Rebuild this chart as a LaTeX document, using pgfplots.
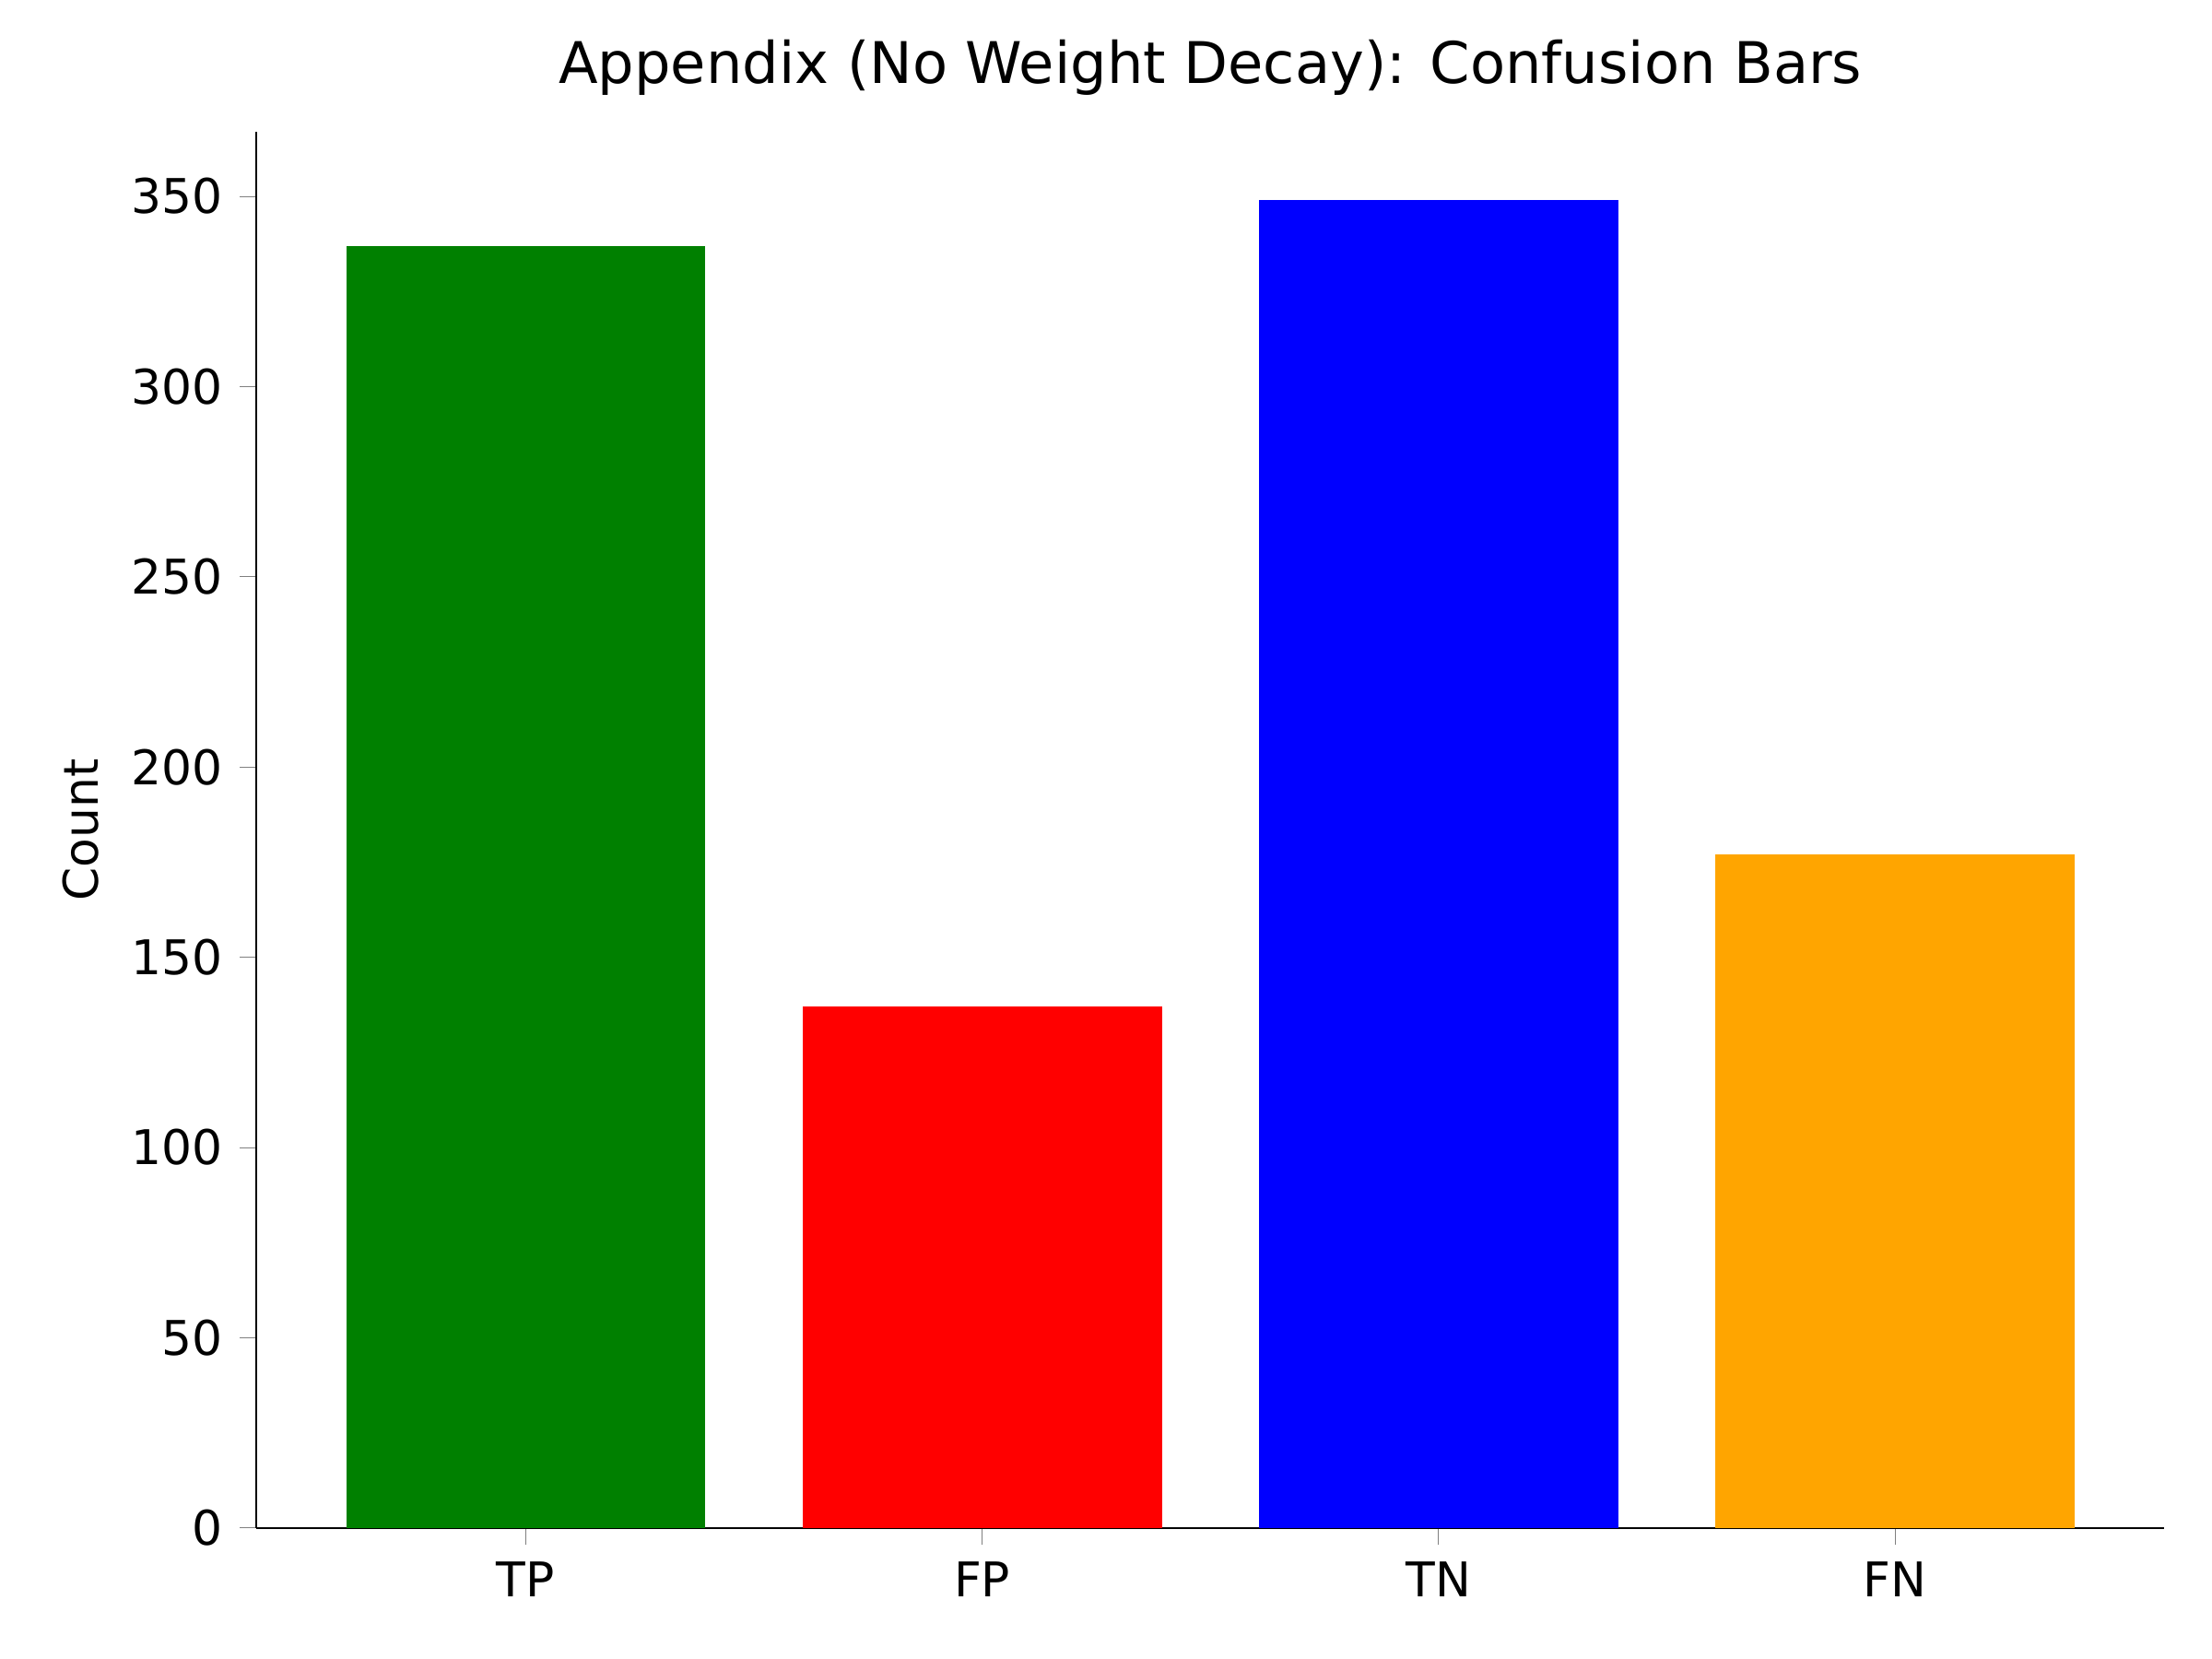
\documentclass[border=0pt]{standalone}
\usepackage{pgfplots}
\pgfplotsset{compat=1.18}
\usepackage{fontspec}
\setmainfont{DejaVu Sans}
\begin{document}
\begin{tikzpicture}
\useasboundingbox (0,0) rectangle (6.4in,4.8in);
\begin{axis}[
  at={(0.742in,0.379in)}, anchor=south west,
  scale only axis, width=5.52in, height=4.04in,
  xmin=-0.59, xmax=3.59, ymin=0, ymax=367,
  axis lines*=left,
  xtick={0,1,2,3}, xticklabels={TP,FP,TN,FN},
  ytick={0,50,100,150,200,250,300,350},
  tick align=outside, tick pos=left,
  major tick length=3.5pt,
  tick label style={font=\fontsize{10}{12}\selectfont},
  /pgf/number format/assume math mode=true,
  ylabel={Count}, ylabel style={font=\fontsize{10}{12}\selectfont},
  title={Appendix (No Weight Decay): Confusion Bars},
  title style={font=\fontsize{12}{14}\selectfont, yshift=-2pt},
  ybar, bar width=2.64cm, bar shift=0pt,
]
\addplot[draw=none, fill={rgb,255:red,0;green,128;blue,0}] coordinates {(0,337)};
\addplot[draw=none, fill=red] coordinates {(1,137)};
\addplot[draw=none, fill=blue] coordinates {(2,349)};
\addplot[draw=none, fill={rgb,255:red,255;green,165;blue,0}] coordinates {(3,177)};
\end{axis}
\end{tikzpicture}
\end{document}
